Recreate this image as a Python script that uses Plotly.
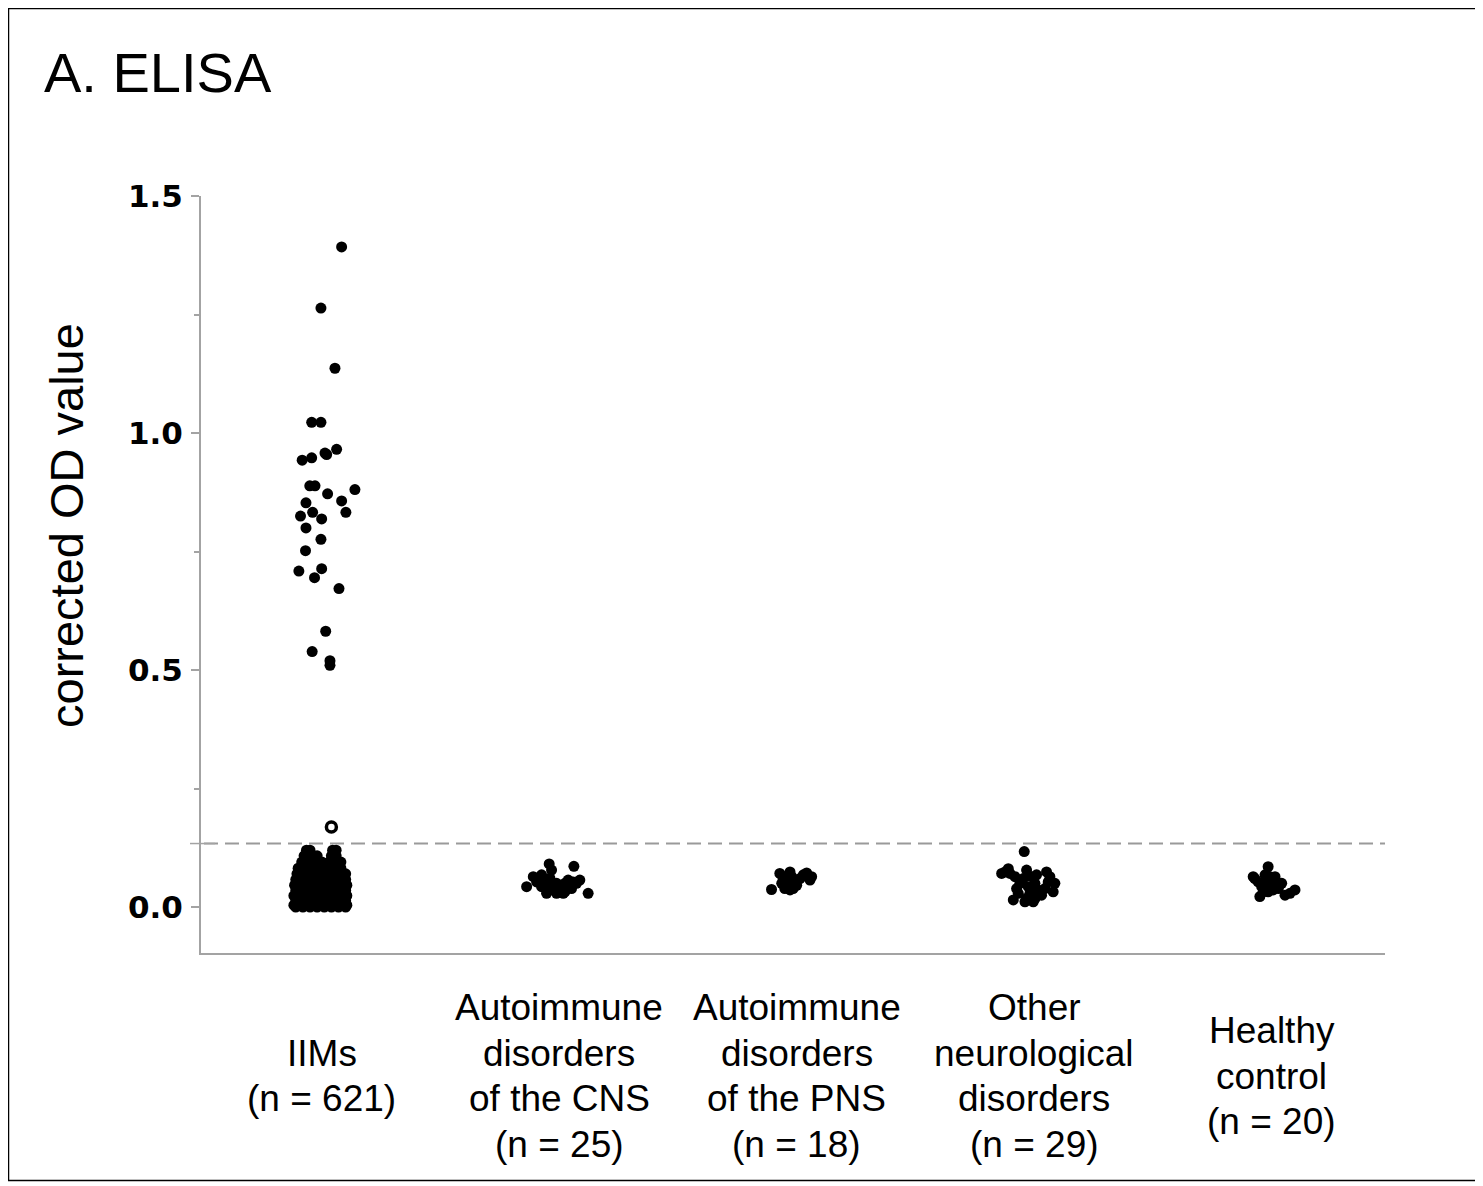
import plotly.graph_objects as go

# ---------------- data ----------------
categories = ["IIMs", "Autoimmune disorders of the CNS", "Autoimmune disorders of the PNS",
              "Other neurological disorders", "Healthy control"]
cat_label_lines = [
    ["IIMs", "(n = 621)"],
    ["Autoimmune", "disorders", "of the CNS", "(n = 25)"],
    ["Autoimmune", "disorders", "of the PNS", "(n = 18)"],
    ["Other", "neurological", "disorders", "(n = 29)"],
    ["Healthy", "control", "(n = 20)"],
]
cutoff = 0.134

# IIMs - high values (jitter offset, corrected OD)
iim_high_dx = [0.083, -0.004, 0.055, -0.043, -0.004, 0.062, 0.013, -0.043, -0.083, -0.051,
               -0.029, 0.139, 0.024, 0.083, -0.067, 0.101, -0.039, -0.001, -0.090, -0.067,
               -0.004, -0.069, -0.097, -0.001, -0.031, 0.072, 0.016, -0.041, 0.034, 0.034,
               0.020]
iim_high_y = [1.393, 1.264, 1.137, 1.023, 1.023, 0.966, 0.958, 0.948, 0.943, 0.889,
              0.889, 0.881, 0.872, 0.857, 0.853, 0.833, 0.833, 0.819, 0.825, 0.800,
              0.776, 0.752, 0.709, 0.714, 0.695, 0.672, 0.582, 0.539, 0.520, 0.510,
              0.955]

# IIMs - low values (dense cluster)
iim_low_dx = [
    -0.065, -0.050, 0.045, 0.060,
    -0.075, -0.045, -0.020, 0.040, 0.060,
    -0.085, -0.060, -0.030, 0.000, 0.030, 0.060, 0.080,
    -0.100, -0.070, -0.040, -0.010, 0.020, 0.050, 0.080,
    -0.105, -0.075, -0.045, -0.015, 0.015, 0.045, 0.075, 0.100,
    -0.110, -0.080, -0.050, -0.020, 0.010, 0.040, 0.070, 0.100,
    -0.115, -0.090, -0.060, -0.030, 0.000, 0.030, 0.060, 0.090, 0.105,
    -0.110, -0.080, -0.050, -0.020, 0.010, 0.040, 0.070, 0.100,
    -0.118, -0.090, -0.060, -0.030, 0.000, 0.030, 0.060, 0.090, 0.105,
    -0.110, -0.080, -0.050, -0.020, 0.010, 0.040, 0.070, 0.100,
    -0.118, -0.090, -0.060, -0.030, 0.000, 0.030, 0.060, 0.090, 0.105,
    -0.110, -0.080, -0.050, -0.020, 0.010, 0.040, 0.070, 0.100,
]
iim_low_y = [
    0.120, 0.120, 0.120, 0.120,
    0.108, 0.108, 0.108, 0.108, 0.108,
    0.095, 0.095, 0.095, 0.095, 0.095, 0.095, 0.095,
    0.082, 0.082, 0.082, 0.082, 0.082, 0.082, 0.082,
    0.070, 0.070, 0.070, 0.070, 0.070, 0.070, 0.070, 0.070,
    0.058, 0.058, 0.058, 0.058, 0.058, 0.058, 0.058, 0.058,
    0.046, 0.046, 0.046, 0.046, 0.046, 0.046, 0.046, 0.046, 0.046,
    0.035, 0.035, 0.035, 0.035, 0.035, 0.035, 0.035, 0.035,
    0.024, 0.024, 0.024, 0.024, 0.024, 0.024, 0.024, 0.024, 0.024,
    0.013, 0.013, 0.013, 0.013, 0.013, 0.013, 0.013, 0.013,
    0.004, 0.004, 0.004, 0.004, 0.004, 0.004, 0.004, 0.004, 0.004,
    0.000, 0.000, 0.000, 0.000, 0.000, 0.000, 0.000, 0.000,
]
iim_open_dx = [0.040]
iim_open_y = [0.169]

cns_dx = [-0.043, 0.061, -0.138, -0.110, -0.075, -0.040, -0.054, -0.012, 0.016, 0.023,
          0.058, 0.086, 0.121, -0.026, -0.075, 0.051, -0.096, -0.012, -0.033, -0.061,
          0.002, 0.037, 0.072, -0.040, 0.023]
cns_y = [0.091, 0.086, 0.043, 0.064, 0.068, 0.061, 0.029, 0.050, 0.029, 0.050,
         0.053, 0.057, 0.029, 0.036, 0.043, 0.039, 0.053, 0.029, 0.078, 0.053,
         0.040, 0.057, 0.050, 0.046, 0.032]

pns_dx = [-0.107, -0.072, -0.029, 0.041, 0.062, -0.051, -0.016, -0.037, -0.008, -0.064,
          0.013, 0.055, -0.029, -0.058, -0.001, -0.022, -0.043, 0.027]
pns_y = [0.037, 0.071, 0.074, 0.072, 0.064, 0.039, 0.039, 0.053, 0.057, 0.050,
         0.060, 0.057, 0.036, 0.060, 0.046, 0.064, 0.046, 0.068]

other_dx = [-0.043, -0.138, -0.110, -0.033, 0.051, -0.082, -0.061, -0.026, -0.089, -0.040,
            0.002, 0.030, 0.079, 0.086, 0.058, 0.002, -0.012, -0.068, -0.019, 0.016,
            0.044, -0.047, -0.103, -0.075, -0.033, 0.009, 0.065, -0.124, -0.005]
other_y = [0.117, 0.071, 0.081, 0.078, 0.074, 0.064, 0.050, 0.043, 0.015, 0.011,
           0.018, 0.025, 0.032, 0.050, 0.053, 0.050, 0.064, 0.029, 0.029, 0.036,
           0.039, 0.060, 0.071, 0.039, 0.018, 0.068, 0.064, 0.074, 0.011]

hc_dx = [-0.016, -0.079, -0.029, 0.013, -0.043, -0.001, 0.041, -0.051, -0.016, 0.055,
         0.097, 0.076, -0.022, 0.020, -0.058, -0.037, 0.005, -0.008, 0.027, -0.072]
hc_y = [0.085, 0.064, 0.068, 0.064, 0.043, 0.046, 0.050, 0.022, 0.032, 0.025,
        0.036, 0.029, 0.053, 0.053, 0.053, 0.032, 0.036, 0.064, 0.039, 0.060]

yticks = [0.0, 0.5, 1.0, 1.5]
yticktext = ["0.0", "0.5", "1.0", "1.5"]
yminor = [0.25, 0.75, 1.25]

# ---------------- layout constants (page pixel coords) ----------------
OFF = 8                      # default page body margin
W, H = 1472, 1176            # figure size
L, R, T, B = 201, 1385, 196, 953   # plot area on the page
PW, PH = R - L, B - T
AX = "#a3a3a3"
FONT = "Liberation Sans, Arial, sans-serif"


def px_x(p):
    return (p - L) / PW


def px_y(p):
    return (B - p) / PH


fig = go.Figure()

groups = [
    (0, iim_high_dx, iim_high_y),
    (0, iim_low_dx, iim_low_y),
    (1, cns_dx, cns_y),
    (2, pns_dx, pns_y),
    (3, other_dx, other_y),
    (4, hc_dx, hc_y),
]
for ci, dx, yv in groups:
    fig.add_trace(go.Scatter(
        x=[ci + d for d in dx], y=yv, mode="markers",
        marker=dict(size=11, color="black", line=dict(width=0)),
        showlegend=False, hoverinfo="skip"))

fig.add_trace(go.Scatter(
    x=[0 + d for d in iim_open_dx], y=iim_open_y, mode="markers",
    marker=dict(size=10, color="white", line=dict(width=3.5, color="black")),
    showlegend=False, hoverinfo="skip"))

# cutoff dashed line
fig.add_shape(type="line", xref="paper", yref="y", x0=px_x(204), x1=1, y0=cutoff, y1=cutoff,
              line=dict(color="#9a9a9a", width=2, dash="14px,7px"), layer="below")
# small cross tick at cutoff
fig.add_shape(type="line", xref="paper", yref="y", x0=px_x(190), x1=px_x(215), y0=cutoff, y1=cutoff,
              line=dict(color=AX, width=1.5))

# outer frame
fig.add_shape(type="rect", xref="paper", yref="paper",
              x0=px_x(8.5), x1=px_x(1476.5), y0=px_y(1180.5), y1=px_y(8.5),
              line=dict(color="black", width=1.5))

# category labels
line_gap = 45.5
center_px = 1076
for ci, lines in enumerate(cat_label_lines):
    k = len(lines)
    for i, t in enumerate(lines):
        yp = center_px + (i - (k - 1) / 2) * line_gap
        fig.add_annotation(x=ci, xref="x", y=px_y(yp), yref="paper", text=t,
                           showarrow=False, xanchor="center", yanchor="middle",
                           font=dict(family=FONT, size=37, color="black"))

# y-axis title
fig.add_annotation(x=px_x(66), xref="paper", y=px_y(526), yref="paper",
                   text="corrected OD value", textangle=-90, showarrow=False,
                   xanchor="center", yanchor="middle",
                   font=dict(family=FONT, size=47, color="black"))

# panel title
fig.add_annotation(x=px_x(42), xref="paper", y=px_y(73), yref="paper",
                   text="A. ELISA", showarrow=False, xanchor="left", yanchor="middle",
                   font=dict(family=FONT, size=56, color="black"))

fig.update_layout(
    width=W, height=H,
    margin=dict(l=L - OFF, r=W - (R - OFF), t=T - OFF, b=H - (B - OFF), pad=0),
    paper_bgcolor="white", plot_bgcolor="white",
    showlegend=False,
    xaxis=dict(range=[-0.509, 4.476], showline=True, linecolor=AX, linewidth=2,
               showticklabels=False, ticks="", showgrid=False, zeroline=False),
    yaxis=dict(range=[-0.097, 1.5005], showline=True, linecolor=AX, linewidth=2,
               tickvals=yticks, ticktext=yticktext, ticks="outside", ticklen=8,
               tickwidth=1.5, tickcolor=AX, showgrid=False, zeroline=False,
               ticklabelstandoff=2,
               tickfont=dict(family="DejaVu Sans", size=31, color="black", weight="bold"),
               minor=dict(tickvals=yminor, ticks="outside", ticklen=5, tickwidth=1.5,
                          tickcolor=AX, showgrid=False)),
)

fig.write_html("out.html")
